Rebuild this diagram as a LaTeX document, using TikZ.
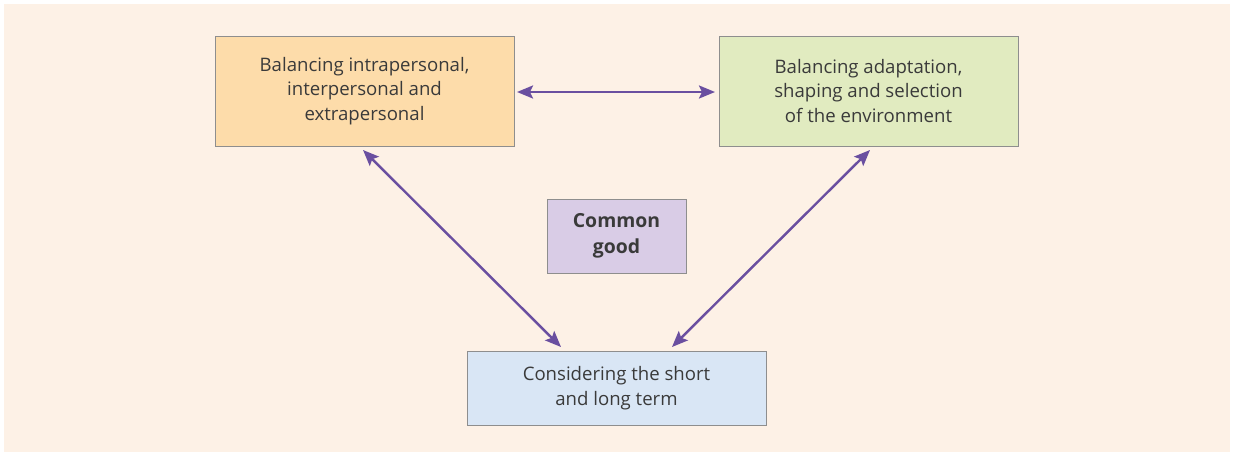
\documentclass[tikz,border=0pt]{standalone}
\usepackage{fontspec}
\setmainfont{Open Sans}
\usetikzlibrary{arrows.meta}
\definecolor{panel}{HTML}{FDF1E6}
\definecolor{orangefill}{HTML}{FDDCAA}
\definecolor{greenfill}{HTML}{E1EBC0}
\definecolor{lilacfill}{HTML}{D9CCE6}
\definecolor{bluefill}{HTML}{D9E6F5}
\definecolor{edge}{HTML}{8E8E8E}
\definecolor{ink}{HTML}{3A3A3A}
\definecolor{link}{HTML}{6A4FA0}
\begin{document}
\begin{tikzpicture}[x=1pt,y=-1pt,
  boxstyle/.style={draw=edge,line width=1pt,inner sep=0pt,align=center,
    text=ink,font=\fontsize{18.6}{24.5}\selectfont},
  linkstyle/.style={draw=link,line width=2.4pt,
    {Stealth[length=16pt,width=13pt,inset=3pt]}-{Stealth[length=16pt,width=13pt,inset=3pt]}}]
  \useasboundingbox (0,0) rectangle (1234,455);
  \fill[white] (0,0) rectangle (1234,455);
  \fill[panel] (4,4) rectangle (1230,452);
  % boxes
  \node[boxstyle,fill=orangefill,minimum width=299pt,minimum height=110pt]
    (intra) at (364.5,91) {Balancing intrapersonal,\\interpersonal and\\extrapersonal};
  \node[boxstyle,fill=greenfill,minimum width=299pt,minimum height=110pt]
    (adapt) at (868.5,91) {Balancing adaptation,\\shaping and selection\\of the environment};
  \node[boxstyle,fill=lilacfill,minimum width=139pt,minimum height=74pt,
    font=\fontsize{19.4}{25.5}\selectfont\bfseries]
    (good) at (616.5,236) {Common\\good};
  \node[boxstyle,fill=bluefill,minimum width=299pt,minimum height=74pt]
    (term) at (616.5,388) {Considering the short\\and long term};
  % connectors
  \coordinate (a1) at (517,92);
  \coordinate (a2) at (715,92);
  \coordinate (b1) at (363,150);
  \coordinate (b2) at (561,347);
  \coordinate (c1) at (870,150);
  \coordinate (c2) at (672,347);
  \path[linkstyle] (a1) -- (a2);
  \path[linkstyle] (b1) -- (b2);
  \path[linkstyle] (c1) -- (c2);
\end{tikzpicture}
\end{document}
